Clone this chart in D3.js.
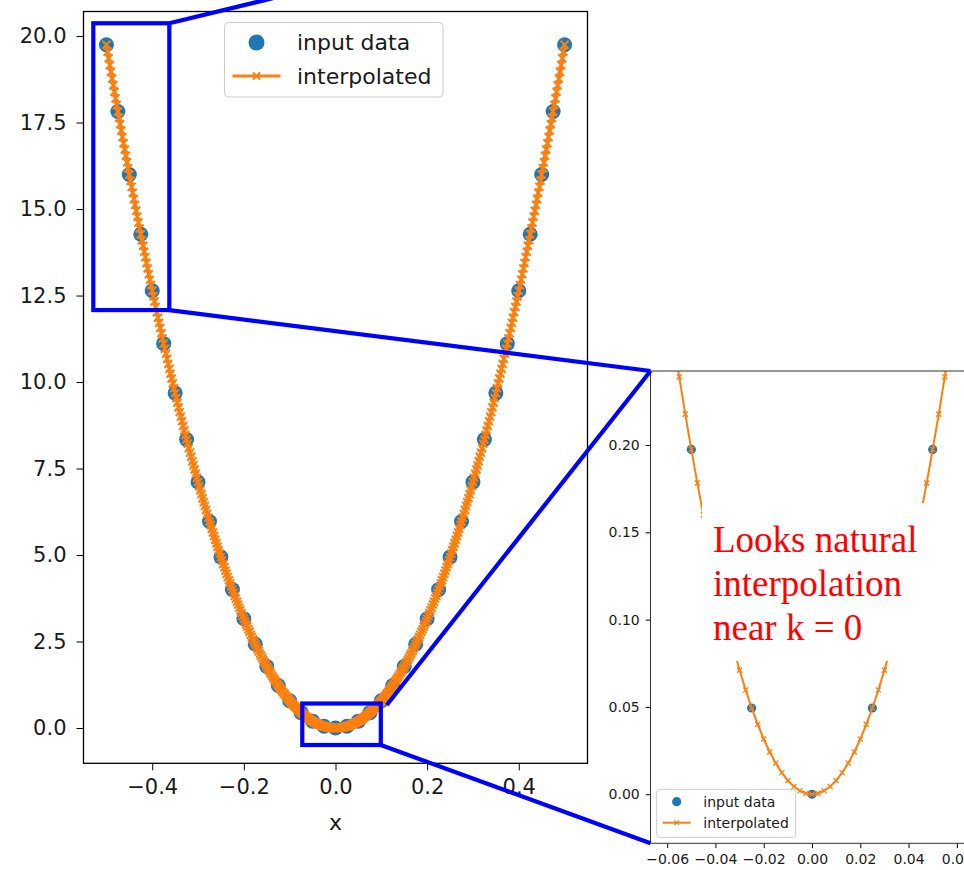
<!DOCTYPE html>
<html>
<head>
<meta charset="utf-8">
<script src="https://cdn.jsdelivr.net/npm/d3@7"></script>
<style>
html, body { margin: 0; padding: 0; background: #fff; overflow: hidden; }
svg { display: block; font-family: "DejaVu Sans", sans-serif; }
</style>
</head>
<body>
<svg id="chart" width="964" height="870"></svg>
<script>
// input samples (k, E)
const inputK = [-0.5,-0.475,-0.45,-0.425,-0.4,-0.375,-0.35,-0.325,-0.3,-0.275,-0.25,-0.225,-0.2,-0.175,-0.15,-0.125,-0.1,-0.075,-0.05,-0.025,
  0,0.025,0.05,0.075,0.1,0.125,0.15,0.175,0.2,0.225,0.25,0.275,0.3,0.325,0.35,0.375,0.4,0.425,0.45,0.475,0.5]
const inputE = [19.75,17.82,16.00,14.27,12.64,11.11,9.68,8.34,7.11,5.97,4.94,4.00,3.16,2.42,1.78,1.23,0.79,0.444,0.1975,0.0494,
  0,0.0494,0.1975,0.444,0.79,1.23,1.78,2.42,3.16,4.00,4.94,5.97,7.11,8.34,9.68,11.11,12.64,14.27,16.00,17.82,19.75]

// interpolated curve
const interpK = [
-.5,-.4975,-.495,-.4925,-.49,-.4875,-.485,-.4825,
-.48,-.4775,-.475,-.4725,-.47,-.4675,-.465,-.4625,
-.46,-.4575,-.455,-.4525,-.45,-.4475,-.445,-.4425,
-.44,-.4375,-.435,-.4325,-.43,-.4275,-.425,-.4225,
-.42,-.4175,-.415,-.4125,-.41,-.4075,-.405,-.4025,
-.4,-.3975,-.395,-.3925,-.39,-.3875,-.385,-.3825,
-.38,-.3775,-.375,-.3725,-.37,-.3675,-.365,-.3625,
-.36,-.3575,-.355,-.3525,-.35,-.3475,-.345,-.3425,
-.34,-.3375,-.335,-.3325,-.33,-.3275,-.325,-.3225,
-.32,-.3175,-.315,-.3125,-.31,-.3075,-.305,-.3025,
-.3,-.2975,-.295,-.2925,-.29,-.2875,-.285,-.2825,
-.28,-.2775,-.275,-.2725,-.27,-.2675,-.265,-.2625,
-.26,-.2575,-.255,-.2525,-.25,-.2475,-.245,-.2425,
-.24,-.2375,-.235,-.2325,-.23,-.2275,-.225,-.2225,
-.22,-.2175,-.215,-.2125,-.21,-.2075,-.205,-.2025,
-.2,-.1975,-.195,-.1925,-.19,-.1875,-.185,-.1825,
-.18,-.1775,-.175,-.1725,-.17,-.1675,-.165,-.1625,
-.16,-.1575,-.155,-.1525,-.15,-.1475,-.145,-.1425,
-.14,-.1375,-.135,-.1325,-.13,-.1275,-.125,-.1225,
-.12,-.1175,-.115,-.1125,-.11,-.1075,-.105,-.1025,
-.1,-.0975,-.095,-.0925,-.09,-.0875,-.085,-.0825,
-.08,-.0775,-.075,-.0725,-.07,-.0675,-.065,-.0625,
-.06,-.0575,-.055,-.0525,-.05,-.0475,-.045,-.0425,
-.04,-.0375,-.035,-.0325,-.03,-.0275,-.025,-.0225,
-.02,-.0175,-.015,-.0125,-.01,-.0075,-.005,-.0025,
0,
.0025,.005,.0075,.01,.0125,.015,.0175,.02,
.0225,.025,.0275,.03,.0325,.035,.0375,.04,
.0425,.045,.0475,.05,.0525,.055,.0575,.06,
.0625,.065,.0675,.07,.0725,.075,.0775,.08,
.0825,.085,.0875,.09,.0925,.095,.0975,.1,
.1025,.105,.1075,.11,.1125,.115,.1175,.12,
.1225,.125,.1275,.13,.1325,.135,.1375,.14,
.1425,.145,.1475,.15,.1525,.155,.1575,.16,
.1625,.165,.1675,.17,.1725,.175,.1775,.18,
.1825,.185,.1875,.19,.1925,.195,.1975,.2,
.2025,.205,.2075,.21,.2125,.215,.2175,.22,
.2225,.225,.2275,.23,.2325,.235,.2375,.24,
.2425,.245,.2475,.25,.2525,.255,.2575,.26,
.2625,.265,.2675,.27,.2725,.275,.2775,.28,
.2825,.285,.2875,.29,.2925,.295,.2975,.3,
.3025,.305,.3075,.31,.3125,.315,.3175,.32,
.3225,.325,.3275,.33,.3325,.335,.3375,.34,
.3425,.345,.3475,.35,.3525,.355,.3575,.36,
.3625,.365,.3675,.37,.3725,.375,.3775,.38,
.3825,.385,.3875,.39,.3925,.395,.3975,.4,
.4025,.405,.4075,.41,.4125,.415,.4175,.42,
.4225,.425,.4275,.43,.4325,.435,.4375,.44,
.4425,.445,.4475,.45,.4525,.455,.4575,.46,
.4625,.465,.4675,.47,.4725,.475,.4775,.48,
.4825,.485,.4875,.49,.4925,.495,.4975,.5]
const interpE = [
19.75,19.55,19.36,19.16,18.97,18.77,18.58,18.39,18.20,18.01,
17.82,17.64,17.45,17.27,17.08,16.90,16.72,16.54,16.35,16.18,
16.00,15.82,15.64,15.47,15.29,15.12,14.95,14.78,14.61,14.44,
14.27,14.10,13.94,13.77,13.61,13.44,13.28,13.12,12.96,12.80,
12.64,12.48,12.33,12.17,12.02,11.86,11.71,11.56,11.41,11.26,
11.11,10.96,10.82,10.67,10.52,10.38,10.24,10.10,9.96,9.82,
9.68,9.54,9.40,9.27,9.13,9.00,8.87,8.73,8.60,8.47,
8.34,8.22,8.09,7.96,7.84,7.71,7.59,7.47,7.35,7.23,
7.11,6.99,6.87,6.76,6.64,6.53,6.42,6.30,6.19,6.08,
5.97,5.87,5.76,5.65,5.55,5.44,5.34,5.24,5.14,5.04,
4.94,4.84,4.74,4.65,4.55,4.46,4.36,4.27,4.18,4.09,
4.00,3.91,3.82,3.74,3.65,3.57,3.48,3.40,3.32,3.24,
3.16,3.08,3.00,2.93,2.85,2.78,2.70,2.63,2.56,2.49,
2.42,2.35,2.28,2.22,2.15,2.09,2.02,1.96,1.90,1.84,
1.78,1.72,1.66,1.60,1.55,1.49,1.44,1.39,1.34,1.28,
1.23,1.19,1.14,1.09,1.04,1.00,0.96,0.91,0.87,0.83,
0.79,0.751,0.713,0.676,0.640,0.605,0.571,0.538,0.506,0.4745,
0.4444,0.4152,0.3871,0.3599,0.3338,0.3086,0.2844,0.2612,0.2390,0.2177,
0.1975,0.1782,0.1600,0.1427,0.1264,0.1111,0.0968,0.0834,0.0711,0.0597,
0.0494,0.0400,0.0316,0.0242,0.0178,0.0123,0.0079,0.0044,0.0020,0.0005,
0,
0.0005,0.0020,0.0044,0.0079,0.0123,0.0178,0.0242,0.0316,0.0400,0.0494,
0.0597,0.0711,0.0834,0.0968,0.1111,0.1264,0.1427,0.1600,0.1782,0.1975,
0.2177,0.2390,0.2612,0.2844,0.3086,0.3338,0.3599,0.3871,0.4152,0.4444,
0.4745,0.506,0.538,0.571,0.605,0.640,0.676,0.713,0.751,0.79,
0.83,0.87,0.91,0.96,1.00,1.04,1.09,1.14,1.19,1.23,
1.28,1.34,1.39,1.44,1.49,1.55,1.60,1.66,1.72,1.78,
1.84,1.90,1.96,2.02,2.09,2.15,2.22,2.28,2.35,2.42,
2.49,2.56,2.63,2.70,2.78,2.85,2.93,3.00,3.08,3.16,
3.24,3.32,3.40,3.48,3.57,3.65,3.74,3.82,3.91,4.00,
4.09,4.18,4.27,4.36,4.46,4.55,4.65,4.74,4.84,4.94,
5.04,5.14,5.24,5.34,5.44,5.55,5.65,5.76,5.87,5.97,
6.08,6.19,6.30,6.42,6.53,6.64,6.76,6.87,6.99,7.11,
7.23,7.35,7.47,7.59,7.71,7.84,7.96,8.09,8.22,8.34,
8.47,8.60,8.73,8.87,9.00,9.13,9.27,9.40,9.54,9.68,
9.82,9.96,10.10,10.24,10.38,10.52,10.67,10.82,10.96,11.11,
11.26,11.41,11.56,11.71,11.86,12.02,12.17,12.33,12.48,12.64,
12.80,12.96,13.12,13.28,13.44,13.61,13.77,13.94,14.10,14.27,
14.44,14.61,14.78,14.95,15.12,15.29,15.47,15.64,15.82,16.00,
16.18,16.35,16.54,16.72,16.90,17.08,17.27,17.45,17.64,17.82,
18.01,18.20,18.39,18.58,18.77,18.97,19.16,19.36,19.55,19.75]

const mainXTicks = [-0.4, -0.2, 0, 0.2, 0.4]
const mainYTicks = [0, 2.5, 5, 7.5, 10, 12.5, 15, 17.5, 20]
const insetXTicks = [-0.06, -0.04, -0.02, 0, 0.02, 0.04, 0.06]
const insetYTicks = [0, 0.05, 0.1, 0.15, 0.2]
const legendLabels = ["input data", "interpolated"]
const noteLines = ["Looks natural", "interpolation", "near k = 0"]
const xLabel = "x"

// zoom boxes drawn on the main plot, in data units [k0, k1, E0, E1]
const zoomBoxTop = [-0.5286, -0.3627, 12.08, 20.37]
const zoomBoxBottom = [-0.0725, 0.0989, -0.491, 0.708]

const dotColor = "#1f77b4"
const lineColor = "#ff7f0e"
const zoomColor = "#0000ff"
const textColor = "#1a1a1a"

const svg = d3.select("#chart")
svg.append("rect").attr("width", 964).attr("height", 870).attr("fill", "#fff")

const pts = d3.zip(interpK, interpE)
const dots = d3.zip(inputK, inputE)

function crossPath(s)
{
  return `M${-s},${-s}L${s},${s}M${-s},${s}L${s},${-s}`
}

function drawSeries(g, x, y, o)
{
  g.append("g").selectAll("circle")
   .data(dots)
   .join("circle")
   .attr("cx", d => x(d[0]))
   .attr("cy", d => y(d[1]))
   .attr("r", o.r)
   .attr("fill", dotColor)

  const line = d3.line().x(d => x(d[0])).y(d => y(d[1]))
  g.append("path")
   .datum(pts)
   .attr("d", line)
   .attr("fill", "none")
   .attr("stroke", lineColor)
   .attr("stroke-width", o.lw)
   .attr("stroke-linejoin", "round")

  g.append("g").selectAll("path")
   .data(pts)
   .join("path")
   .attr("transform", d => `translate(${x(d[0])},${y(d[1])})`)
   .attr("d", crossPath(o.ms))
   .attr("stroke", lineColor)
   .attr("stroke-width", o.mw)
}

function styleAxis(g, size)
{
  g.select(".domain").remove()
  g.attr("font-family", "DejaVu Sans, sans-serif").attr("font-size", size)
  g.selectAll("text").attr("fill", textColor)
  g.selectAll("line").attr("stroke", "#000")
}

function drawLegend(g, box, o)
{
  g.append("rect")
   .attr("x", box[0]).attr("y", box[1])
   .attr("width", box[2]).attr("height", box[3])
   .attr("rx", o.rx)
   .attr("fill", "#fff").attr("fill-opacity", 0.8)
   .attr("stroke", "#cccccc").attr("stroke-width", 1)

  g.append("circle")
   .attr("cx", o.sx).attr("cy", o.rows[0])
   .attr("r", o.r).attr("fill", dotColor)

  g.append("line")
   .attr("x1", o.sx - o.half).attr("x2", o.sx + o.half)
   .attr("y1", o.rows[1]).attr("y2", o.rows[1])
   .attr("stroke", lineColor).attr("stroke-width", o.lw)
  g.append("path")
   .attr("transform", `translate(${o.sx},${o.rows[1]})`)
   .attr("d", crossPath(o.ms))
   .attr("stroke", lineColor).attr("stroke-width", o.mw)

  g.selectAll("text.leg")
   .data(legendLabels)
   .join("text")
   .attr("class", "leg")
   .attr("x", o.tx)
   .attr("y", (d, i) => o.rows[i])
   .attr("dy", "0.36em")
   .attr("font-size", o.fs)
   .attr("fill", textColor)
   .text(d => d)
}

// ---------- main axes ----------
const x = d3.scaleLinear().domain([-0.55, 0.55]).range([83.5, 587.5])
const y = d3.scaleLinear().domain([-1.02, 20.71]).range([763.3, 11.5])

const main = svg.append("g")

drawSeries(main, x, y, { r: 7.5, lw: 3, ms: 4, mw: 2 })

main.append("g")
    .attr("transform", "translate(0,763.3)")
    .call(d3.axisBottom(x).tickValues(mainXTicks).tickFormat(d3.format(".1f")).tickSize(7).tickPadding(9))
    .call(g => styleAxis(g, 21))

main.append("g")
    .attr("transform", "translate(83.5,0)")
    .call(d3.axisLeft(y).tickValues(mainYTicks).tickFormat(d3.format(".1f")).tickSize(7).tickPadding(10))
    .call(g => styleAxis(g, 21))

main.append("rect")
    .attr("x", 83.5).attr("y", 11.5)
    .attr("width", 504).attr("height", 751.8)
    .attr("fill", "none").attr("stroke", "#000").attr("stroke-width", 1.3)

main.append("text")
    .attr("x", 335.5).attr("y", 830)
    .attr("text-anchor", "middle")
    .attr("font-size", 22)
    .attr("fill", textColor)
    .text(xLabel)

drawLegend(main.append("g"), [224.5, 22.5, 218.5, 74.5],
  { rx: 4, sx: 256.5, half: 24, rows: [42.5, 76], tx: 297, r: 8, lw: 3, ms: 3.5, mw: 2, fs: 22 })

// ---------- inset ----------
const ix = d3.scaleLinear().domain([-0.0669, 0.0669]).range([650.5, 973.5])
const iy = d3.scaleLinear().domain([-0.0281, 0.2424]).range([843.3, 371])

const inset = svg.append("g")

svg.append("defs").append("clipPath").attr("id", "insetClip")
   .append("rect").attr("x", 650.5).attr("y", 371).attr("width", 323).attr("height", 472.3)

drawSeries(inset.append("g").attr("clip-path", "url(#insetClip)"), ix, iy, { r: 4.6, lw: 2, ms: 2.6, mw: 1.3 })

inset.append("g")
     .attr("transform", "translate(0,843.3)")
     .call(d3.axisBottom(ix).tickValues(insetXTicks).tickFormat(d3.format(".2f")).tickSize(4.8).tickPadding(6))
     .call(g => styleAxis(g, 14))

inset.append("g")
     .attr("transform", "translate(650.5,0)")
     .call(d3.axisLeft(iy).tickValues(insetYTicks).tickFormat(d3.format(".2f")).tickSize(4.8).tickPadding(6))
     .call(g => styleAxis(g, 14))

inset.append("path")
     .attr("d", "M973.5,371H650.5V843.3H973.5")
     .attr("fill", "none").attr("stroke", "#333").attr("stroke-width", 1)

// note over the curve, with its own white backing
inset.append("rect")
     .attr("x", 702).attr("y", 503)
     .attr("width", 223).attr("height", 158)
     .attr("fill", "#fff")

inset.selectAll("text.note")
     .data(noteLines)
     .join("text")
     .attr("class", "note")
     .attr("x", 713)
     .attr("y", (d, i) => 552 + i * 44)
     .attr("font-family", "'Times New Roman', 'Liberation Serif', serif")
     .attr("font-size", 37)
     .attr("fill", "#ff0000")
     .text(d => d)

drawLegend(inset.append("g"), [656.7, 789.3, 139, 48],
  { rx: 3, sx: 676.7, half: 14, rows: [801.7, 822.7], tx: 703.3, r: 4.6, lw: 2, ms: 2.3, mw: 1.2, fs: 14 })

// ---------- zoom markers ----------
const zoom = svg.append("g")
  .attr("fill", "none")
  .attr("stroke", zoomColor)
  .attr("stroke-width", 4.2)

function boxRect(b)
{
  return [x(b[0]), y(b[3]), x(b[1]) - x(b[0]), y(b[2]) - y(b[3])]
}

const topBox = boxRect(zoomBoxTop)
const botBox = boxRect(zoomBoxBottom)

zoom.selectAll("rect")
    .data([topBox, botBox])
    .join("rect")
    .attr("x", d => d[0]).attr("y", d => d[1])
    .attr("width", d => d[2]).attr("height", d => d[3])

const insetLeft = ix.range()[0]
const insetTop = iy.range()[1]
const insetBottom = iy.range()[0]

const links = [
  [[topBox[0] + topBox[2], topBox[1]], [290, -6]],
  [[topBox[0] + topBox[2], topBox[1] + topBox[3]], [insetLeft, insetTop]],
  [[botBox[0] + botBox[2] + 6, botBox[1] + 1.5], [insetLeft, insetTop]],
  [[botBox[0] + botBox[2], botBox[1] + botBox[3]], [insetLeft, insetBottom]]
]

zoom.selectAll("line")
    .data(links)
    .join("line")
    .attr("x1", d => d[0][0]).attr("y1", d => d[0][1])
    .attr("x2", d => d[1][0]).attr("y2", d => d[1][1])
</script>
</body>
</html>
